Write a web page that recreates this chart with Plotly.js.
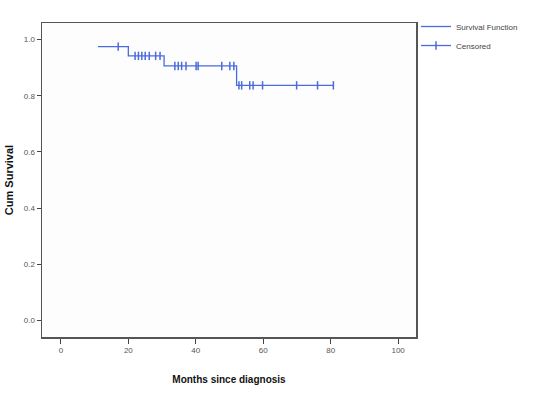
<!DOCTYPE html>
<html>
<head>
<meta charset="utf-8">
<script src="https://cdn.plot.ly/plotly-3.0.1.min.js"></script>
<style>html,body{margin:0;padding:0;background:#fff;}#chart{width:537px;height:394px;}</style>
</head>
<body>
<div id="chart"></div>
<script>
// Step (Kaplan-Meier) curve: times where level starts and survival levels
var stepTimes = [11, 20, 30.6, 52.1, 81];
var stepSurvival = [0.975, 0.942, 0.906, 0.837, 0.837];
// Censored observation times (months)
var censoredTimes = [17, 22, 23, 24, 25, 26.2, 28.1, 29.4,
  33.8, 34.8, 35.8, 37.1, 40.1, 40.7, 47.7, 50.1, 51.3,
  52.8, 53.6, 56, 57, 59.8, 69.9, 76.1, 80.8];
var xTicks = [0, 20, 40, 60, 80, 100];
var yTicks = [0.0, 0.2, 0.4, 0.6, 0.8, 1.0];

function survAt(t) {
  var s = stepSurvival[0];
  for (var i = 0; i < stepTimes.length; i++) { if (t >= stepTimes[i]) s = stepSurvival[i]; }
  return s;
}
// separate censored points with nulls so no connecting line is drawn
var cx = [], cy = [];
censoredTimes.forEach(function(t){ cx.push(t, null); cy.push(survAt(t), null); });

var lineColor = '#4a6bdc';
var traces = [
  {x: stepTimes, y: stepSurvival, type: 'scatter', mode: 'lines', line: {shape: 'hv', color: lineColor, width: 1.3}, name: 'Survival Function'},
  {x: cx, y: cy, type: 'scatter', mode: 'lines+markers', connectgaps: false, line: {color: lineColor, width: 1.3}, marker: {symbol: 'line-ns', size: 6, line: {color: lineColor, width: 1.5}}, name: 'Censored'}
];
var tickFont = {family: 'Liberation Sans, Arial, sans-serif', size: 8, color: '#555'};
var layout = {
  width: 537, height: 394,
  margin: {l: 42, r: 121, t: 14, b: 57},
  paper_bgcolor: '#ffffff', plot_bgcolor: '#fdfdfe',
  showlegend: true,
  legend: {x: 1.0, y: 1.035, xanchor: 'left', yanchor: 'top', font: {family: 'Liberation Sans, Arial, sans-serif', size: 8, color: '#444'}, bgcolor: 'rgba(0,0,0,0)', tracegroupgap: 0, itemwidth: 30},
  xaxis: {range: [-5.6, 105.3], tickvals: xTicks, ticktext: xTicks.map(String), ticks: 'outside', ticklen: 5, tickcolor: '#444', tickfont: tickFont,
    showgrid: false, zeroline: false, showline: true, linecolor: '#555', linewidth: 1.5, mirror: true,
    title: {text: '<b>Months since diagnosis</b>', font: {family: 'Liberation Sans, Arial, sans-serif', size: 10, color: '#111'}, standoff: 22}},
  yaxis: {range: [-0.059, 1.059], tickvals: yTicks, ticktext: yTicks.map(function(v){return v.toFixed(1);}), ticks: 'outside', ticklen: 4, tickcolor: '#444', tickfont: tickFont,
    showgrid: false, zeroline: false, showline: true, linecolor: '#555', linewidth: 1.5, mirror: true,
    title: {text: '<b>Cum Survival</b>', font: {family: 'Liberation Sans, Arial, sans-serif', size: 11, color: '#111'}, standoff: 8}}
};
Plotly.newPlot('chart', traces, layout, {displayModeBar: false, staticPlot: true});
</script>
</body>
</html>
